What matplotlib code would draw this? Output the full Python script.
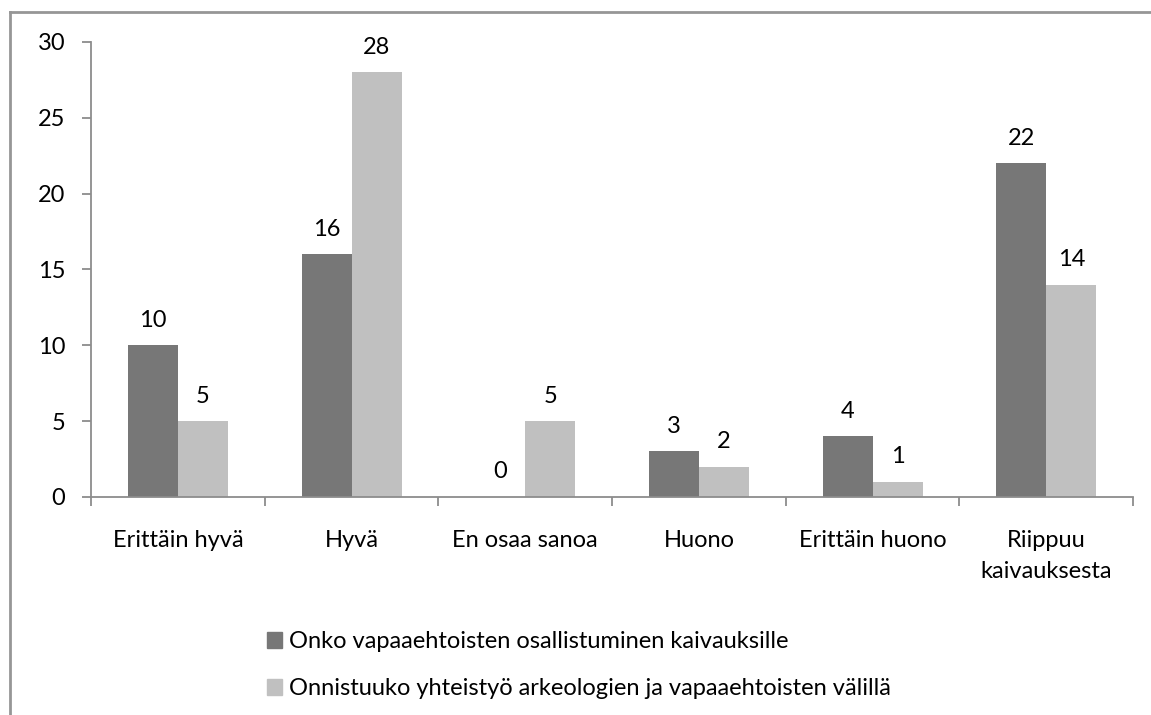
import matplotlib
matplotlib.use("Agg")
import matplotlib.pyplot as plt
import numpy as np
from matplotlib.lines import Line2D
from matplotlib.patches import Patch

categories = ["Erittäin hyvä", "Hyvä", "En osaa sanoa", "Huono", "Erittäin huono", "Riippuu\nkaivauksesta"]
osallistuminen = [10, 16, 0, 3, 4, 22]
yhteistyo = [5, 28, 5, 2, 1, 14]
series_names = ["Onko vapaaehtoisten osallistuminen kaivauksille",
                "Onnistuuko yhteistyö arkeologien ja vapaaehtoisten välillä"]
yticks = [0, 5, 10, 15, 20, 25, 30]

dark = "#777777"
light = "#c0c0c0"
axis_col = "#8c8c8c"
fs = 17

plt.rcParams["font.family"] = ["Lato", "DejaVu Sans"]
plt.rcParams["font.size"] = fs

fig = plt.figure(figsize=(11.51, 7.15), dpi=100)
ax = fig.add_axes([0.0791, 0.3049, 0.9053, 0.6364])

x = np.arange(len(categories))
w = 0.288
b1 = ax.bar(x - w / 2, osallistuminen, w, color=dark, linewidth=0)
b2 = ax.bar(x + w / 2, yhteistyo, w, color=light, linewidth=0)

for bars, vals in ((b1, osallistuminen), (b2, yhteistyo)):
    for r, v in zip(bars, vals):
        ax.annotate(str(v), (r.get_x() + r.get_width() / 2, v), xytext=(0, 18),
                    textcoords="offset points", ha="center", va="center", fontsize=fs)

ax.set_xlim(-0.5, len(categories) - 0.5)
ax.set_ylim(0, 30)
ax.set_yticks(yticks)
ax.set_xticks(x)
ax.set_xticklabels(categories, linespacing=1.55)
ax.set_xticks(np.arange(len(categories) + 1) - 0.5, minor=True)
ax.tick_params(axis="x", which="major", length=0, pad=24)
ax.tick_params(axis="x", which="minor", length=6.5, color=axis_col, width=1.3)
ax.tick_params(axis="y", length=6.5, color=axis_col, width=1.3, pad=12)

for s in ("top", "right"):
    ax.spines[s].set_visible(False)
for s in ("left", "bottom"):
    ax.spines[s].set_color(axis_col)
    ax.spines[s].set_linewidth(1.3)

handles = [Patch(color=dark), Patch(color=light)]
fig.legend(handles, series_names, loc="upper left", bbox_to_anchor=(267 / 1151, 0.117),
           frameon=False, handlelength=0.64, handleheight=0.64, handletextpad=0.28,
           labelspacing=1.1, fontsize=fs, borderaxespad=0, borderpad=0)

# outer chart border (top and left visible)
fig.add_artist(Line2D([10 / 1151, 1.0], [1 - 12 / 715, 1 - 12 / 715], color="#969696", lw=2))
fig.add_artist(Line2D([10 / 1151, 10 / 1151], [0, 1 - 12 / 715], color="#969696", lw=2))

fig.savefig("out.png", dpi=100)
